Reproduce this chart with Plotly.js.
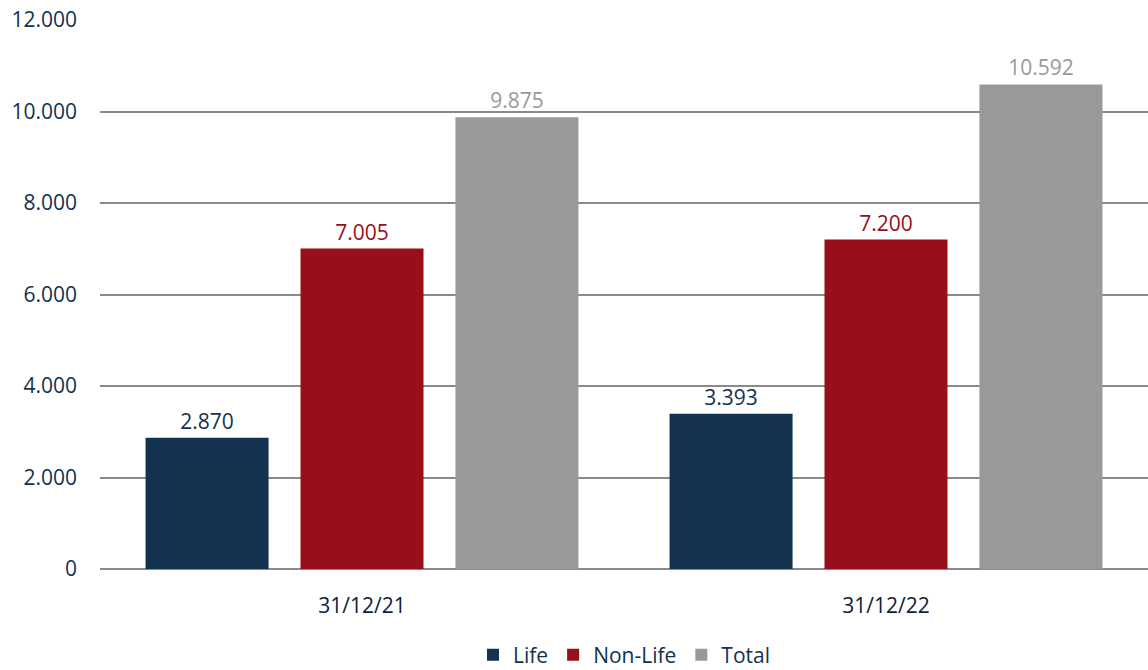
<!DOCTYPE html>
<html>
<head>
<meta charset="utf-8">
<script src="https://cdn.plot.ly/plotly-3.0.1.min.js"></script>
<style>html,body{margin:0;padding:0;background:#fff;}#chart{width:1148px;height:670px;}</style>
</head>
<body>
<div id="chart"></div>
<script>
const categories = ["31/12/21", "31/12/22"];
const lifeValues = [2870, 3393];
const nonLifeValues = [7005, 7200];
const totalValues = [9875, 10592];
const yTicks = [0, 2000, 4000, 6000, 8000, 10000, 12000];

const navy = "#12324f", red = "#970f18", gray = "#999999";
const fontFam = "Open Sans, Noto Sans, sans-serif";

function series(name, vals, color, textColor) {
  return {
    type: "bar", name: name, x: categories, y: vals,
    marker: {color: color},
    text: vals, texttemplate: "%{y:,.0f}", textposition: "outside",
    textfont: {family: fontFam, size: 21, color: textColor},
    cliponaxis: false, hoverinfo: "skip"
  };
}

const data = [
  series("Life", lifeValues, navy, navy),
  series("Non-Life", nonLifeValues, red, red),
  series("Total", totalValues, gray, gray)
];

const layout = {
  width: 1148, height: 670,
  margin: {l: 100, r: 0, t: 20, b: 101, autoexpand: false},
  separators: ",.",
  barmode: "group", bargap: 0.113, bargroupgap: 0.206,
  paper_bgcolor: "#fff", plot_bgcolor: "#fff",
  font: {family: fontFam, color: navy, size: 20},
  xaxis: {
    showgrid: false, zeroline: false, showline: false, ticks: "", automargin: false,
    tickfont: {family: fontFam, size: 21, color: "#0d2238", weight: 500},
    ticklabelstandoff: 22
  },
  yaxis: {
    range: [0, 12000], tickvals: yTicks, ticktext: yTicks.map(v => v.toLocaleString("de-DE")),
    showgrid: true, gridcolor: "#8a8a8a", gridwidth: 2, automargin: false,
    zeroline: true, zerolinecolor: "#8a8a8a", zerolinewidth: 2,
    showline: false, ticks: "",
    tickfont: {family: fontFam, size: 21, color: navy},
    ticklabelstandoff: 22
  },
  showlegend: true,
  legend: {
    orientation: "h", x: 0.5, xanchor: "center", y: -0.157, yanchor: "middle",
    font: {family: fontFam, size: 21, color: navy}, itemwidth: 30, tracegroupgap: 0
  }
};

Plotly.newPlot("chart", data, layout, {staticPlot: true, displayModeBar: false});
</script>
</body>
</html>
